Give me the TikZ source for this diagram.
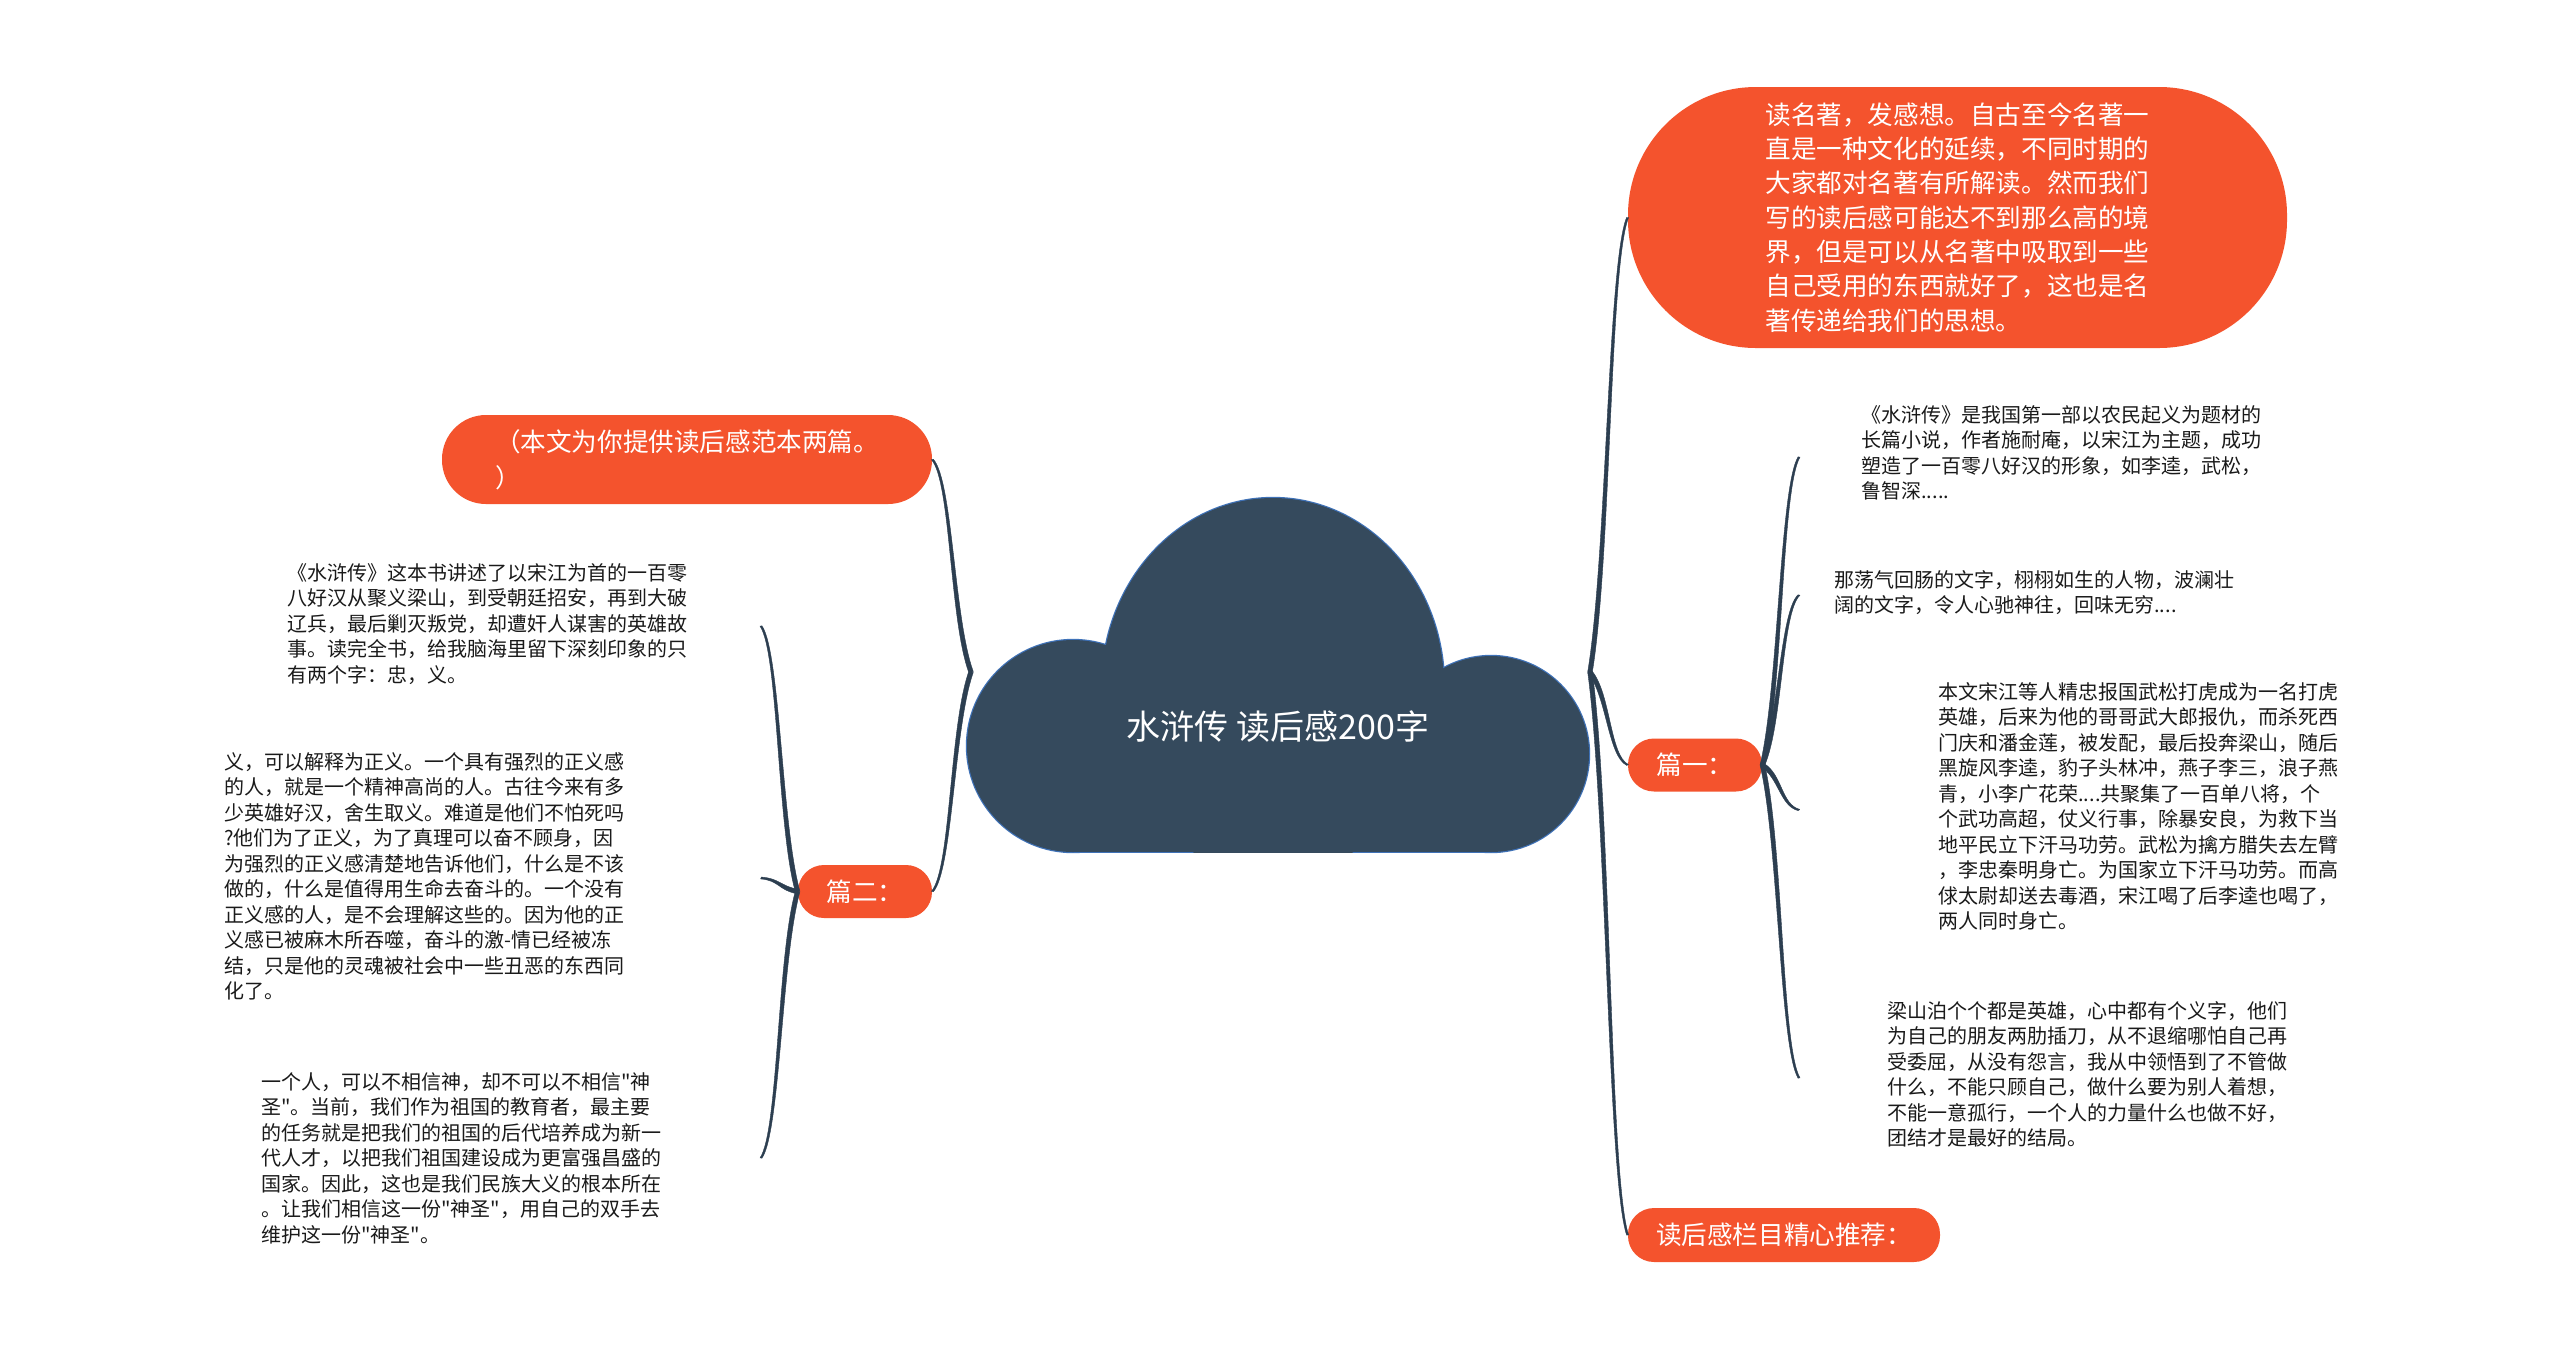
\documentclass[tikz,border=0pt]{standalone}
\usepackage{fontspec}
\setmainfont{Noto Sans CJK SC}
\font\qtf="Noto Sans CJK SC" at 10pt
\newcommand\qq{{\qtf"}}
\usetikzlibrary{calc}
\definecolor{bub}{HTML}{F4532D}
\definecolor{cloudfill}{HTML}{354A5D}
\definecolor{cloudedge}{HTML}{3F72B8}
\definecolor{linec}{HTML}{2C3E50}
\definecolor{txt}{HTML}{1A1A1A}
\tikzset{
  bubble/.style={fill=bub, text=white, inner sep=0pt, align=center},
  body/.style={anchor=north west, inner sep=0pt, align=left, text=txt, font=\fontsize{10pt}{12.75pt}\selectfont},
  connline/.style={fill=linec, draw=linec, line width=0.2pt, line join=round},
  cloudline/.style={cloudedge, line width=1.2pt},
}
% tapered curved connector from #1 (root) to #2 (tip)
\newcommand\conn[2]{\path[connline] let \p1=(#1), \p2=(#2),
  \n1={veclen(\x2-\x1,\y2-\y1)},
  \p3=({-1.15*(\y2-\y1)/\n1},{1.15*(\x2-\x1)/\n1}),
  \p4=({-0.5*(\y2-\y1)/\n1},{0.5*(\x2-\x1)/\n1}),
  \p5=({0.5*\x1+0.5*\x2},{0.75*\y1+0.25*\y2}),
  \p6=({0.5*\x1+0.5*\x2},{0.1*\y1+0.9*\y2}) in
  ({\x1+(\x3)},{\y1+(\y3)}) .. controls ({\x5+(\x3)},{\y5+(\y3)}) and ({\x6+(\x4)},{\y6+(\y4)}) .. ({\x2+(\x4)},{\y2+(\y4)})
  -- ({\x2-(\x4)},{\y2-(\y4)}) .. controls ({\x6-(\x4)},{\y6-(\y4)}) and ({\x5-(\x3)},{\y5-(\y3)}) .. ({\x1-(\x3)},{\y1-(\y3)}) -- cycle;}
\begin{document}
\begin{tikzpicture}[x=0.5pt,y=-0.5pt]
\useasboundingbox (0,0) rectangle (2560,1351);
\fill[white] (0,0) rectangle (2560,1351);

% cloud: outlines first, then fills on top
\draw[cloudline] (1073,746) circle[radius=53pt];
\draw[cloudline] (1491,754) circle[radius=49pt];
\begin{scope}
  \clip (0,0) rectangle (2560,852);
  \draw[cloudline] (1273,686) ellipse[x radius=85.5pt, y radius=94pt];
\end{scope}
\draw[cloudline] (1073,700) rectangle (1491,852);
\fill[cloudfill] (1073,746) circle[radius=53pt];
\fill[cloudfill] (1491,754) circle[radius=49pt];
\begin{scope}
  \clip (0,0) rectangle (2560,852);
  \fill[cloudfill] (1273,686) ellipse[x radius=85.5pt, y radius=94pt];
\end{scope}
\fill[cloudfill] (1073,700) rectangle (1491,852);
\node[text=white, font=\fontsize{17pt}{20pt}\selectfont] (center) at (1278,727) {水浒传 读后感200字};

\coordinate (rroot) at (1590,672);
\coordinate (lroot) at (971,672);

% bubbles
\node[bubble, minimum width=329.5pt, minimum height=130.5pt, rounded corners=64pt, align=left, font=\fontsize{12.8pt}{17.15pt}\selectfont] (top) at (1957.5,217.5)
{读名著，发感想。自古至今名著一\\直是一种文化的延续，不同时期的\\大家都对名著有所解读。然而我们\\写的读后感可能达不到那么高的境\\界，但是可以从名著中吸取到一些\\自己受用的东西就好了，这也是名\\著传递给我们的思想。};
\node[bubble, minimum width=245pt, minimum height=44.5pt, rounded corners=22pt, align=left, font=\fontsize{12.8pt}{18pt}\selectfont] (intro) at (687,459.5)
{（本文为你提供读后感范本两篇。\\）};
\node[bubble, minimum width=67pt, minimum height=26.5pt, rounded corners=13pt, font=\fontsize{12.8pt}{15pt}\selectfont] (p2) at (865,891.5) {篇二：};
\node[bubble, minimum width=67pt, minimum height=26.5pt, rounded corners=13pt, font=\fontsize{12.8pt}{15pt}\selectfont] (p1) at (1695,765) {篇一：};
\node[bubble, minimum width=156pt, minimum height=27pt, rounded corners=13pt, font=\fontsize{12.8pt}{15pt}\selectfont] (rec) at (1784,1235) {读后感栏目精心推荐：};

% body texts right
\node[body] (t1) at (1861,405) {《水浒传》是我国第一部以农民起义为题材的\\长篇小说，作者施耐庵，以宋江为主题，成功\\塑造了一百零八好汉的形象，如李逵，武松，\\鲁智深.....};
\node[body] (t2) at (1834,570) {那荡气回肠的文字，栩栩如生的人物，波澜壮\\阔的文字，令人心驰神往，回味无穷....};
\node[body] (t3) at (1938,682) {本文宋江等人精忠报国武松打虎成为一名打虎\\英雄，后来为他的哥哥武大郎报仇，而杀死西\\门庆和潘金莲，被发配，最后投奔梁山，随后\\黑旋风李逵，豹子头林冲，燕子李三，浪子燕\\青，小李广花荣....共聚集了一百单八将，个\\个武功高超，仗义行事，除暴安良，为救下当\\地平民立下汗马功劳。武松为擒方腊失去左臂\\，李忠秦明身亡。为国家立下汗马功劳。而高\\俅太尉却送去毒酒，宋江喝了后李逵也喝了，\\两人同时身亡。};
\node[body] (t4) at (1887,1001) {梁山泊个个都是英雄，心中都有个义字，他们\\为自己的朋友两肋插刀，从不退缩哪怕自己再\\受委屈，从没有怨言，我从中领悟到了不管做\\什么，不能只顾自己，做什么要为别人着想，\\不能一意孤行，一个人的力量什么也做不好，\\团结才是最好的结局。};

% body texts left
\node[body] (t5) at (287,563) {《水浒传》这本书讲述了以宋江为首的一百零\\八好汉从聚义梁山，到受朝廷招安，再到大破\\辽兵，最后剿灭叛党，却遭奸人谋害的英雄故\\事。读完全书，给我脑海里留下深刻印象的只\\有两个字：忠，义。};
\node[body] (t6) at (224,752) {义，可以解释为正义。一个具有强烈的正义感\\的人，就是一个精神高尚的人。古往今来有多\\少英雄好汉，舍生取义。难道是他们不怕死吗\\?他们为了正义，为了真理可以奋不顾身，因\\为强烈的正义感清楚地告诉他们，什么是不该\\做的，什么是值得用生命去奋斗的。一个没有\\正义感的人，是不会理解这些的。因为他的正\\义感已被麻木所吞噬，奋斗的激-情已经被冻\\结，只是他的灵魂被社会中一些丑恶的东西同\\化了。};
\node[body] (t7) at (261,1072) {一个人，可以不相信神，却不可以不相信\qq 神\\圣\qq 。当前，我们作为祖国的教育者，最主要\\的任务就是把我们的祖国的后代培养成为新一\\代人才，以把我们祖国建设成为更富强昌盛的\\国家。因此，这也是我们民族大义的根本所在\\。让我们相信这一份\qq 神圣\qq ，用自己的双手去\\维护这一份\qq 神圣\qq 。};

% branch end points
\coordinate (e1) at (1799,457);
\coordinate (e2) at (1799,595);
\coordinate (e3) at (1799,810);
\coordinate (e4) at (1799,1078);
\coordinate (f1) at (761,626);
\coordinate (f2) at (761,878);
\coordinate (f3) at (761,1158);

% connectors
\conn{rroot}{top.west}
\conn{rroot}{p1.west}
\conn{rroot}{rec.west}
\conn{lroot}{intro.east}
\conn{lroot}{p2.east}
\conn{p1.east}{e1}
\conn{p1.east}{e2}
\conn{p1.east}{e3}
\conn{p1.east}{e4}
\conn{p2.west}{f1}
\conn{p2.west}{f2}
\conn{p2.west}{f3}
\end{tikzpicture}
\end{document}
